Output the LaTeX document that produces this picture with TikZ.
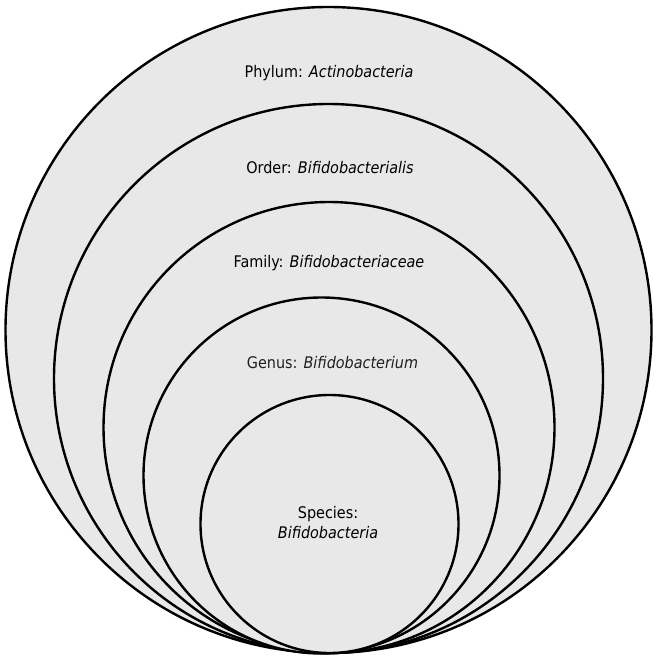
\documentclass[tikz,border=0pt]{standalone}
\usepackage{fontspec}
\setmainfont{DejaVu Sans Condensed}
\begin{document}
\begin{tikzpicture}[x=1pt,y=-1pt,
  ring/.style={draw=black,line width=2.4pt,fill=ringgray},
  lbl/.style={font=\fontsize{16}{20}\selectfont,text=black,align=center,inner sep=0pt}]
\definecolor{ringgray}{HTML}{E8E8E8}
\useasboundingbox (0,0) rectangle (666,671);
\draw[ring] (328.5,330) circle[radius=323];
\draw[ring] (328.5,378.5) circle[radius=274.5];
\draw[ring] (329,427.5) circle[radius=225.5];
\draw[ring] (321.5,475.5) circle[radius=178];
\draw[ring] (329.5,524) circle[radius=129];
\node[lbl] (phylum) at (329,73) {Phylum: \textit{Actinobacteria}};
\node[lbl] (order) at (330,168) {Order: \textit{Bifidobacterialis}};
\node[lbl] (family) at (329,263) {Family: \textit{Bifidobacteriaceae}};
\node[lbl,text={rgb,255:red,35;green,31;blue,32}] (genus) at (332.5,363) {Genus: \textit{Bifidobacterium}};
\node[lbl] (species) at (328,523) {Species:\\\textit{Bifidobacteria}};
\end{tikzpicture}
\end{document}
